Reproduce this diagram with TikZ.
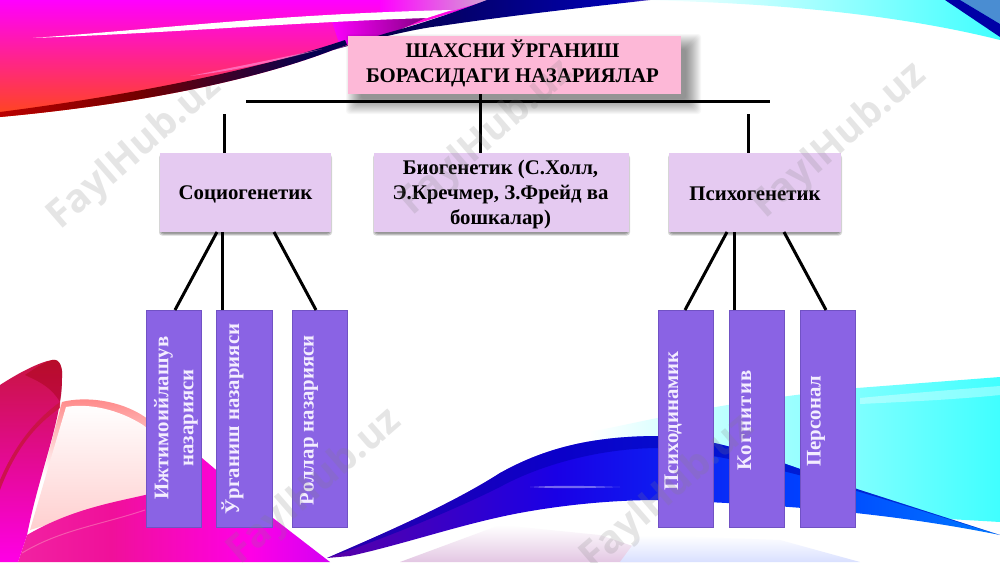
\documentclass[tikz,border=0pt]{standalone}
\usepackage{fontspec}
\setmainfont{Liberation Serif}
\newfontfamily\wmfont{Open Sans}
\definecolor{titlepink}{HTML}{FDB8D7}
\definecolor{midlilac}{HTML}{E5CAF1}
\definecolor{barviolet}{HTML}{8A63E4}
\definecolor{baredge}{HTML}{7152C4}
\definecolor{bartext}{HTML}{F3EDFF}
\definecolor{navyd}{HTML}{050050}
\definecolor{hotpink}{HTML}{F0109A}
\definecolor{crimson}{HTML}{C81440}
\tikzset{
  titlebox/.style={fill=titlepink,minimum width=333pt,minimum height=58pt,inner sep=0pt},
  midbox/.style={fill=midlilac,minimum height=79pt,inner sep=0pt},
  barbox/.style={fill=barviolet,draw=baredge,line width=.7pt,minimum width=55.5pt,minimum height=217pt,inner sep=0pt},
  boldtext/.style={inner sep=0pt,align=center,font=\fontsize{20.8}{25}\selectfont\bfseries},
  bartxt/.style={boldtext,rotate=90,text=bartext},
  barline/.style={bartxt,anchor=base},
  link/.style={line width=3pt,black},
  wm/.style={rotate=41,text=gray,opacity=.2,font=\wmfont\fontsize{39}{39}\selectfont\bfseries}
}
\newcommand{\softbox}[7]{% x1 y1 x2 y2 from to opacity
  \foreach \r in {#5,...,#6}{\fill[black,opacity=#7,rounded corners=3pt] ({#1-\r},{#2-\r}) rectangle ({#3+\r},{#4+\r});}}
\pgfdeclarehorizontalshading{edgeshade}{100bp}{color(0bp)=(red!70!white!80!magenta); color(20bp)=(red!80!black); color(45bp)=(red!45!black); color(70bp)=(navyd); color(100bp)=(navyd)}
\pgfdeclarehorizontalshading{wedgeshade}{100bp}{color(0bp)=(navyd); color(35bp)=(navyd); color(70bp)=(blue!70!black); color(88bp)=(violet!60!white); color(100bp)=(white)}
\pgfdeclarehorizontalshading{bluewave}{100bp}{color(0bp)=(violet!80!blue); color(25bp)=(violet!70!blue); color(42bp)=(blue!80!violet); color(60bp)=(blue!75!cyan); color(80bp)=(cyan!55!blue); color(100bp)=(cyan!60!black)}
\pgfdeclarehorizontalshading{magband}{100bp}{color(0bp)=(hotpink!80!white); color(40bp)=(hotpink); color(62bp)=(magenta!90!red); color(85bp)=(magenta!70!blue); color(100bp)=(violet!60!black)}
\begin{document}
\begin{tikzpicture}[x=1pt,y=-1pt]
\useasboundingbox (0,0) rectangle (1000,562);
\fill[white] (0,0) rectangle (1000,562);
\node[wm] (w1) at (135,152) {FaylHub.uz};
% top-left swoosh
\shade[top color=magenta,middle color=magenta!80!red,bottom color=red!80!yellow!90!white]
  (0,0) -- (493,0) -- (387,33) -- (333,50)
  .. controls (250,82) and (130,105) .. (0,117) -- cycle;
\shade[left color=magenta,right color=violet!35!white] (380,0) -- (490,0) -- (452,11) -- (380,13) -- cycle;
\shade[left color=magenta,right color=violet] (330,16) -- (430,16) -- (395,32) -- (340,46) -- cycle;
\fill[white] (33,38) .. controls (170,28) and (280,14) .. (452,10) -- (427,18)
  .. controls (300,22) and (170,33) .. (33,38) -- cycle;
\shade[shading=edgeshade] (0,117) .. controls (130,105) and (250,82) .. (333,50) -- (347,45) -- (345,40)
  .. controls (280,62) and (170,90) .. (0,112) -- cycle;
\fill[pink!70!magenta,opacity=.7] (190,76) .. controls (240,66) and (280,58) .. (322,49) .. controls (280,60) and (240,70) .. (190,76) -- cycle;
\shade[shading=wedgeshade] (333,50) .. controls (380,37) and (420,28) .. (440,26)
  .. controls (500,17) and (570,9) .. (650,0) -- (487,0) .. controls (450,14) and (420,24) .. (387,33) -- cycle;
% top-right band
\shade[left color=white,right color=cyan!75!white] (640,0) -- (1000,0) -- (1000,40)
  .. controls (900,15) and (780,3) .. (640,0) -- cycle;
\fill[cyan!55!blue!75!white] (960,0) -- (1000,0) -- (1000,24) -- cycle;
\fill[blue!65!black] (945,0) -- (960,0) -- (1000,24) -- (1000,37) -- cycle;
% bottom-right cyan wave
\shade[left color=white,right color=cyan!75!white,middle color=cyan!40!white]
  (590,432) .. controls (650,420) and (720,402) .. (857,388) -- (1000,377) -- (1000,522) -- (880,515) -- (600,480) -- cycle;
\fill[white,opacity=.35] (860,398) .. controls (900,394) and (950,390) .. (1000,386) -- (1000,395) .. controls (950,400) and (900,402) .. (860,404) -- cycle;
% pale floor
\shade[top color=white,bottom color=violet!22!white] (400,562) -- (500,525) -- (600,535) -- (680,562) -- cycle;
\shade[top color=white,bottom color=cyan!18!blue!15!white] (620,562) -- (640,535) -- (780,540) -- (860,562) -- cycle;
% bottom-left shapes
\shade[top color=pink!70!red,bottom color=white,middle color=white] (62,402) .. controls (85,396) and (120,400) .. (145,417) -- (325,557) -- (27,535) -- cycle;
\shade[top color=white,bottom color=pink!75!white] (66,407) .. controls (88,403) and (118,409) .. (143,425) -- (200,468) -- (200,482) -- (145,495) -- (30,530) -- cycle;
\shade[shading=magband] (18,562) -- (27,535) .. controls (70,510) and (110,503) .. (145,495) -- (200,482)
  -- (202,458) -- (273,518) -- (330,562) -- cycle;
\draw[pink!80!white,opacity=.35,line width=1pt] (22,553) .. controls (60,530) and (100,525) .. (145,510);
\shade[top color=crimson,middle color=hotpink,bottom color=magenta!90!red]
  (0,385) .. controls (20,372) and (40,362) .. (52,360) .. controls (60,358) and (63,368) .. (62,378)
  .. controls (62,420) and (40,470) .. (27,535) -- (18,562) -- (0,562) -- cycle;
\fill[crimson,opacity=.85] (60,408) .. controls (35,425) and (15,450) .. (0,490) -- (0,480) .. controls (15,445) and (35,420) .. (60,402) -- cycle;
\fill[red!60!black,opacity=.35] (52,360) .. controls (60,358) and (63,368) .. (62,378) .. controls (62,390) and (61,398) .. (60,402) .. controls (50,385) and (35,380) .. (25,375) .. controls (35,368) and (45,362) .. (52,360) -- cycle;
% blue wave
\shade[shading=bluewave] (327,558) .. controls (380,535) and (450,505) .. (500,473)
  .. controls (550,445) and (600,436) .. (660,436) .. controls (720,436) and (800,470) .. (860,490)
  -- (1000,535) .. controls (900,515) and (800,505) .. (658,500) .. controls (600,500) and (540,508) .. (500,517)
  .. controls (450,528) and (400,545) .. (350,556) -- cycle;
\fill[blue!70!black,opacity=.55] (327,558) .. controls (380,535) and (450,505) .. (500,473)
  .. controls (550,445) and (600,436) .. (660,436) .. controls (720,436) and (800,470) .. (860,490)
  -- (1000,535) .. controls (900,505) and (780,462) .. (660,448) .. controls (600,448) and (540,465) .. (500,487)
  .. controls (450,512) and (380,540) .. (327,558) -- cycle;
\fill[white,opacity=.4] (530,487) .. controls (560,485) and (590,486) .. (620,487) .. controls (590,488) and (560,489) .. (530,487) -- cycle;
% named anchors for connector ends
\coordinate (hl) at (246,101);
\coordinate (hr) at (770,101);
\coordinate (stubl) at (224,114);
\coordinate (stubr) at (748,114);
\coordinate (stubc) at (480,94);
\coordinate (s1) at (217,232);
\coordinate (s2) at (222,232);
\coordinate (s3) at (274,232);
\coordinate (p1) at (727,232);
\coordinate (p2) at (734,232);
\coordinate (p3) at (784,232);
\coordinate (e1) at (175,310);
\coordinate (e3) at (316,310);
\coordinate (e4) at (685,310);
\coordinate (e6) at (826,310);
% shadows
\softbox{357}{45}{690}{103}{-4}{11}{.032}
\softbox{160}{155.5}{331}{234.5}{-1}{1}{.16}
\softbox{374}{155.5}{629}{234.5}{-1}{1}{.16}
\softbox{669}{155.5}{841}{234.5}{-1}{1}{.16}
% boxes
\node[titlebox] (title) at (514.5,65) {};
\node[midbox,minimum width=171pt] (soc) at (245.5,192.5) {};
\node[midbox,minimum width=255pt] (bio) at (501.5,192.5) {};
\node[midbox,minimum width=172pt] (psy) at (755,192.5) {};
\node[barbox] (ijt) at (174,418.5) {};
\node[barbox] (urg) at (244.5,418.5) {};
\node[barbox] (rol) at (320,418.5) {};
\node[barbox] (pdn) at (686,418.5) {};
\node[barbox] (kog) at (757,418.5) {};
\node[barbox] (per) at (828,418.5) {};
% texts
\node[boldtext] (titlet) at (512.5,63) {ШАХСНИ ЎРГАНИШ\\БОРАСИДАГИ НАЗАРИЯЛАР};
\node[boldtext] (soct) at (245.5,194) {Социогенетик};
\node[boldtext] (biot) at (500.5,194.5) {Биогенетик (С.Холл,\\Э.Кречмер, З.Фрейд ва\\бошкалар)};
\node[boldtext] (psyt) at (755,194) {Психогенетик};
\node[bartxt] (ijtt) at (176,418) {Ижтимоийлашув\\назарияси};
\node[barline] (urgt) at (239,419) {Ўрганиш  назарияси};
\node[barline] (rolt) at (313.5,420) {Роллар назарияси};
\node[barline] (pdnt) at (678,421) {Психодинамик};
\node[barline] (kogt) at (751,420.5) {\addfontfeature{LetterSpace=6.5}Когнитив};
\node[barline] (pert) at (820.5,421) {Персонал};
% connectors
\draw[link] (hl) -- (hr);
\draw[link] (stubc) -- (stubc |- bio.north);
\draw[link] (stubl) -- (stubl |- soc.north);
\draw[link] (stubr) -- (stubr |- psy.north);
\draw[link] (s1) -- (e1);
\draw[link] (s2) -- (s2 |- urg.north);
\draw[link] (s3) -- (e3);
\draw[link] (p1) -- (e4);
\draw[link] (p2) -- (p2 |- kog.north);
\draw[link] (p3) -- (e6);
% watermarks
\node[wm] (w2) at (487,138) {FaylHub.uz};
\node[wm] (w3) at (840,141) {FaylHub.uz};
\node[wm] (w4) at (315,487) {FaylHub.uz};
\node[wm] (w5) at (668,493) {FaylHub.uz};
\end{tikzpicture}
\end{document}
